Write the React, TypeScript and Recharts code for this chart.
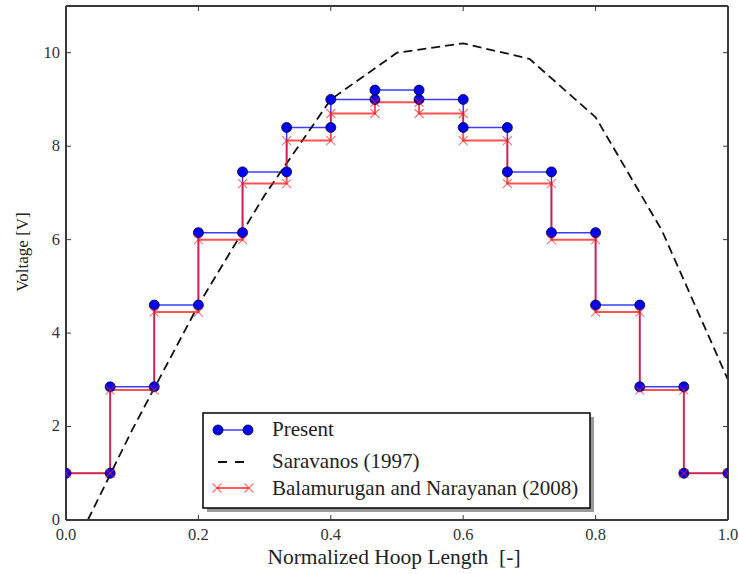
import React from 'react';
import { LineChart, Line, XAxis, YAxis, Legend } from 'recharts';

// ---- data ----
const stepEdges = [0, 0.0667, 0.1333, 0.2, 0.2667, 0.3333, 0.4, 0.4667, 0.5333, 0.6, 0.6667, 0.7333, 0.8, 0.8667, 0.9333, 1.0];
const presentLevels = [1.0, 2.85, 4.6, 6.15, 7.45, 8.4, 9.0, 9.2, 9.0, 8.4, 7.45, 6.15, 4.6, 2.85, 1.0];
const balamuruganLevels = [1.0, 2.78, 4.45, 6.0, 7.2, 8.12, 8.7, 8.94, 8.7, 8.12, 7.2, 6.0, 4.45, 2.78, 1.0];
const saravanosX = [0.033, 0.1, 0.2, 0.3, 0.4, 0.5, 0.6, 0.7, 0.8, 0.9, 1.0];
const saravanosY = [0, 1.93, 4.6, 6.95, 9.0, 10.0, 10.2, 9.87, 8.62, 6.2, 3.0];
const xTicks = [0, 0.2, 0.4, 0.6, 0.8, 1.0];
const yTicks = [0, 2, 4, 6, 8, 10];

const seriesNames = ['Present', 'Saravanos (1997)', 'Balamurugan and Narayanan (2008)'];
const xTitle = 'Normalized Hoop Length  [-]';
const yTitle = 'Voltage [V]';

// build step point lists from the level arrays
const toSteps = (levels: number[]) => {
  const pts: { x: number; y: number }[] = [];
  levels.forEach((v, i) => {
    pts.push({ x: stepEdges[i], y: v });
    pts.push({ x: stepEdges[i + 1], y: v });
  });
  return pts;
};
const presentData = toSteps(presentLevels);
const balaData = toSteps(balamuruganLevels);
const saravanosData = saravanosX.map((x, i) => ({ x, y: saravanosY[i] }));

const FONT = '"Liberation Serif", "DejaVu Serif", serif';
const AXIS = '#3a3a3a';
const BLUE_LINE = '#3c3cff';
const BLUE_DOT = '#0000f0';
const RED = '#ff1a1a';

const BottomTick = (props: any) => {
  const { x, y, payload } = props;
  return (
    <g>
      <line x1={x} y1={y} x2={x} y2={y - 5} stroke={AXIS} strokeWidth={1} />
      <text x={x} y={y + 20} textAnchor="middle" fontFamily={FONT} fontSize={16.5} fill="#333">
        {Number(payload.value).toFixed(1)}
      </text>
    </g>
  );
};
const TopTick = (props: any) => {
  const { x, y } = props;
  return <line x1={x} y1={y} x2={x} y2={y + 5} stroke={AXIS} strokeWidth={1} />;
};
const LeftTick = (props: any) => {
  const { x, y, payload } = props;
  return (
    <g>
      <line x1={x} y1={y} x2={x + 5} y2={y} stroke={AXIS} strokeWidth={1} />
      <text x={x - 6} y={y} dy="0.3em" textAnchor="end" fontFamily={FONT} fontSize={16.5} fill="#333">
        {payload.value}
      </text>
    </g>
  );
};
const RightTick = (props: any) => {
  const { x, y } = props;
  return <line x1={x} y1={y} x2={x - 5} y2={y} stroke={AXIS} strokeWidth={1} />;
};

const RedX = (props: any) => {
  const { cx, cy } = props;
  if (cx == null || cy == null) return null;
  const s = 4.5;
  return (
    <g stroke={RED} strokeOpacity={0.6} strokeWidth={1.2}>
      <line x1={cx - s} y1={cy - s} x2={cx + s} y2={cy + s} />
      <line x1={cx - s} y1={cy + s} x2={cx + s} y2={cy - s} />
    </g>
  );
};

const renderLegend = () => {
  // local coords: wrapper at (198, 408)
  const ox = 198;
  const oy = 408;
  const L = (v: number) => v - ox;
  const T = (v: number) => v - oy;
  return (
    <svg width={400} height={112} style={{ display: 'block', overflow: 'visible' }}>
      <rect x={L(207)} y={T(417)} width={387} height={95} fill="#9a9a9a" />
      <rect x={L(203)} y={T(413)} width={387} height={95} fill="#fff" stroke="#000" strokeWidth={1.5} />
      {/* Present */}
      <line x1={L(218)} y1={T(430)} x2={L(248)} y2={T(430)} stroke={BLUE_LINE} strokeWidth={1.5} />
      <circle cx={L(218)} cy={T(430)} r={5} fill={BLUE_DOT} stroke="#000033" strokeWidth={0.8} />
      <circle cx={L(248)} cy={T(430)} r={5} fill={BLUE_DOT} stroke="#000033" strokeWidth={0.8} />
      <text x={L(272)} y={T(436)} fontFamily={FONT} fontSize={21} fill="#222">{seriesNames[0]}</text>
      {/* Saravanos */}
      <line x1={L(218)} y1={T(462)} x2={L(244)} y2={T(462)} stroke="#111" strokeWidth={1.8} strokeDasharray="9 8" />
      <text x={L(272)} y={T(468)} fontFamily={FONT} fontSize={21} fill="#222">{seriesNames[1]}</text>
      {/* Balamurugan */}
      <line x1={L(217)} y1={T(488)} x2={L(249)} y2={T(488)} stroke={RED} strokeOpacity={0.8} strokeWidth={1.8} />
      <RedX cx={L(217)} cy={T(488)} />
      <RedX cx={L(249)} cy={T(488)} />
      <text x={L(272)} y={T(495)} fontFamily={FONT} fontSize={21} fill="#222">{seriesNames[2]}</text>
    </svg>
  );
};

const frame = { stroke: AXIS, strokeWidth: 2 };

export default function App() {
  return (
    <div style={{ position: 'absolute', left: 0, top: 0, width: 739, height: 574, background: '#fff' }}>
      <LineChart width={739} height={574} margin={{ top: 5, right: 10, bottom: 0, left: 0 }} style={{ fontFamily: FONT }}>
        <XAxis
          xAxisId="b"
          type="number"
          dataKey="x"
          domain={[0, 1]}
          ticks={xTicks}
          interval={0}
          allowDataOverflow
          height={54}
          tickSize={0}
          tickMargin={0}
          tickLine={false}
          axisLine={frame}
          tick={<BottomTick />}
          label={() => (
            <text x={394} y={564} textAnchor="middle" fontFamily={FONT} fontSize={21.5} fill="#222" style={{ whiteSpace: 'pre' }}>
              {xTitle}
            </text>
          )}
        />
        <XAxis
          xAxisId="t"
          orientation="top"
          type="number"
          dataKey="x"
          domain={[0, 1]}
          ticks={xTicks}
          interval={0}
          allowDataOverflow
          height={1}
          tickSize={0}
          tickMargin={0}
          tickLine={false}
          axisLine={frame}
          tick={<TopTick />}
        />
        <YAxis
          yAxisId="l"
          type="number"
          domain={[0, 11]}
          ticks={yTicks}
          interval={0}
          allowDataOverflow
          width={66}
          tickSize={0}
          tickMargin={0}
          tickLine={false}
          axisLine={frame}
          tick={<LeftTick />}
          label={() => (
            <text
              x={0}
              y={0}
              transform="translate(28,252) rotate(-90)"
              textAnchor="middle"
              fontFamily={FONT}
              fontSize={17}
              fill="#222"
            >
              {yTitle}
            </text>
          )}
        />
        <YAxis
          yAxisId="r"
          orientation="right"
          type="number"
          domain={[0, 11]}
          ticks={yTicks}
          interval={0}
          allowDataOverflow
          width={1}
          tickSize={0}
          tickMargin={0}
          tickLine={false}
          axisLine={frame}
          tick={<RightTick />}
        />
        {/* invisible series so the top / right frame axes are drawn */}
        <Line
          xAxisId="t"
          yAxisId="r"
          data={saravanosData}
          dataKey="y"
          stroke="none"
          dot={false}
          activeDot={false}
          legendType="none"
          isAnimationActive={false}
        />
        <Line
          xAxisId="b"
          yAxisId="l"
          data={presentData}
          dataKey="y"
          name={seriesNames[0]}
          type="linear"
          stroke={BLUE_LINE}
          strokeWidth={1.5}
          dot={{ r: 5, fill: BLUE_DOT, stroke: '#000033', strokeWidth: 0.8, fillOpacity: 1 }}
          isAnimationActive={false}
        />
        <Line
          xAxisId="b"
          yAxisId="l"
          data={saravanosData}
          dataKey="y"
          name={seriesNames[1]}
          type="linear"
          stroke="#111"
          strokeWidth={1.8}
          strokeDasharray="9 5"
          dot={false}
          isAnimationActive={false}
        />
        <Line
          xAxisId="b"
          yAxisId="l"
          data={balaData}
          dataKey="y"
          name={seriesNames[2]}
          type="linear"
          stroke={RED}
          strokeOpacity={0.75}
          strokeWidth={2}
          dot={<RedX />}
          isAnimationActive={false}
        />
        <Legend
          layout="horizontal"
          verticalAlign="middle"
          align="center"
          content={renderLegend}
          wrapperStyle={{ left: 198, top: 408, width: 400, height: 112 }}
        />
      </LineChart>
    </div>
  );
}
